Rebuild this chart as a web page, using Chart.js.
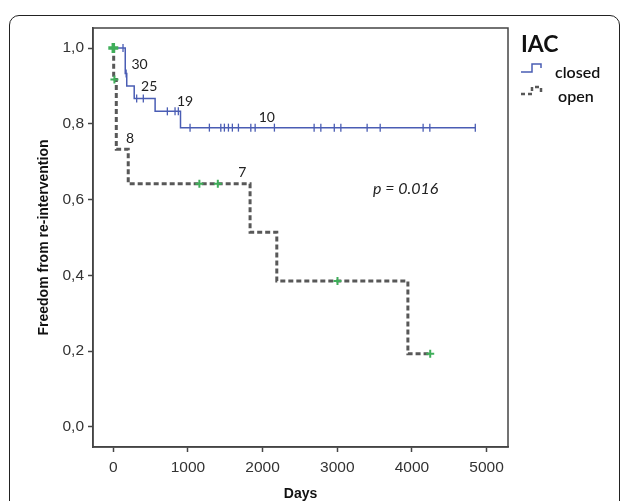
<!DOCTYPE html>
<html>
<head>
<meta charset="utf-8">
<script src="https://cdn.jsdelivr.net/npm/chart.js@4.4.1/dist/chart.umd.min.js"></script>
<style>
  html, body { margin: 0; padding: 0; background: #fff; }
  #wrap { position: relative; width: 627px; height: 501px; overflow: hidden; }
  #frame {
    position: absolute; left: 9px; top: 15px; width: 611px; height: 520px;
    border: 1.5px solid #222; border-radius: 10px; box-sizing: border-box;
  }
  canvas { position: absolute; left: 0; top: 0; }
</style>
</head>
<body>
<div id="wrap">
  <div id="frame"></div>
  <canvas id="km" width="627" height="501"></canvas>
</div>
<script>
// Kaplan-Meier steps (day of event, survival after event), last entry = end of follow-up
const closedTimes = [0, 160, 180, 280, 560, 900, 4850];
const closedSurv = [1.0, 0.933, 0.9, 0.867, 0.833, 0.79, 0.79];
const openTimes = [0, 5, 40, 200, 1832, 2190, 3946, 4245];
const openSurv = [1.0, 0.917, 0.733, 0.642, 0.514, 0.385, 0.193, 0.193];

// censored cases (days)
const closedCensored = [130, 172, 313, 402, 724, 827, 871, 1028, 1287, 1440, 1488, 1542, 1595,
  1676, 1842, 1900, 2158, 2690, 2780, 2960, 3048, 3400, 3575, 4150, 4240, 4849];
const openCensored = [0, 15, 1153, 1400, 3003, 4245];

// numbers at risk + p value written on the plot
const noteTexts = ['30', '25', '19', '10', '8', '7'];
const noteDays = [351, 481, 961, 2056, 224, 1729];
const noteValues = [0.957, 0.898, 0.86, 0.817, 0.761, 0.671];
const pText = 'p = 0.016';
const pDay = 3917;
const pValue = 0.629;

const xTickValues = [0, 1000, 2000, 3000, 4000, 5000];
const xTickLabels = ['0', '1000', '2000', '3000', '4000', '5000'];
const yTickValues = [0, 0.2, 0.4, 0.6, 0.8, 1.0];
const yTickLabels = ['0,0', '0,2', '0,4', '0,6', '0,8', '1,0'];

const BLUE = '#4a5db4';
const GRAY = '#585858';
const GREEN = '#3fae5a';

// survival value at a given day (step function lookup)
function survAt(times, surv, day) {
  let v = surv[0];
  for (let i = 0; i < times.length; i++) {
    if (times[i] <= day) v = surv[i];
  }
  return v;
}

const toPoints = (times, surv) => times.map((t, i) => ({ x: t, y: surv[i] }));

// frame around plot + text annotations + legend
const extrasPlugin = {
  id: 'extras',
  afterDraw(chart) {
    const { ctx, chartArea: a, scales } = chart;
    ctx.save();
    ctx.strokeStyle = '#444';
    ctx.lineWidth = 1.5;
    ctx.strokeRect(a.left, a.top, a.right - a.left, a.bottom - a.top);

    ctx.fillStyle = '#222';
    ctx.textAlign = 'center';
    ctx.textBaseline = 'middle';
    ctx.font = '14px Lato';
    noteTexts.forEach((t, i) => {
      ctx.fillText(t, scales.x.getPixelForValue(noteDays[i]), scales.y.getPixelForValue(noteValues[i]));
    });
    ctx.font = 'italic 16px Lato';
    ctx.fillText(pText, scales.x.getPixelForValue(pDay), scales.y.getPixelForValue(pValue));

    // legend
    const lx = 521;
    ctx.textAlign = 'left';
    ctx.fillStyle = '#111';
    ctx.font = 'bold 23px Lato';
    ctx.fillText('IAC', lx, 45);
    ctx.font = '600 16px Lato';
    ctx.fillText('closed', 555, 73);
    ctx.fillText('open', 558, 97);

    ctx.strokeStyle = BLUE;
    ctx.lineWidth = 1.5;
    ctx.beginPath();
    ctx.moveTo(lx, 72); ctx.lineTo(lx + 11, 72); ctx.lineTo(lx + 11, 64);
    ctx.lineTo(lx + 20, 64); ctx.lineTo(lx + 20, 68);
    ctx.stroke();

    ctx.strokeStyle = GRAY;
    ctx.lineWidth = 2.5;
    ctx.setLineDash([4, 3]);
    ctx.beginPath();
    ctx.moveTo(lx, 94); ctx.lineTo(lx + 11, 94); ctx.lineTo(lx + 11, 87);
    ctx.lineTo(lx + 20, 87); ctx.lineTo(lx + 20, 93);
    ctx.stroke();
    ctx.restore();
  }
};

Chart.register(extrasPlugin);

new Chart(document.getElementById('km'), {
  type: 'scatter',
  data: {
    datasets: [
      {
        label: 'closed censored',
        data: closedCensored.map(d => ({ x: d, y: survAt(closedTimes, closedSurv, d) })),
        pointStyle: 'line',
        rotation: 90,
        pointRadius: 4,
        borderColor: BLUE,
        backgroundColor: BLUE,
        borderWidth: 1.3,
        order: 0
      },
      {
        label: 'open censored',
        data: openCensored.map(d => ({ x: d, y: survAt(openTimes, openSurv, d) })),
        pointStyle: 'cross',
        pointRadius: (c) => (c.dataIndex === 0 ? 5 : 4),
        borderColor: GREEN,
        backgroundColor: GREEN,
        borderWidth: (c) => (c.dataIndex === 0 ? 3.5 : 2),
        order: 0
      },
      {
        label: 'closed',
        data: toPoints(closedTimes, closedSurv),
        showLine: true,
        stepped: true,
        borderColor: BLUE,
        borderWidth: 1.5,
        pointRadius: 0,
        order: 1
      },
      {
        label: 'open',
        data: toPoints(openTimes, openSurv),
        showLine: true,
        stepped: true,
        borderColor: GRAY,
        borderWidth: 3,
        borderDash: [5, 3],
        pointRadius: 0,
        order: 2
      }
    ]
  },
  options: {
    responsive: false,
    animation: false,
    layout: { padding: { left: 0, top: 28, right: 119, bottom: 0 } },
    plugins: { legend: { display: false }, tooltip: { enabled: false } },
    scales: {
      x: {
        type: 'linear',
        min: -272,
        max: 5287,
        afterFit(scale) { scale.height = 54; },
        afterBuildTicks(scale) { scale.ticks = xTickValues.map(v => ({ value: v })); },
        ticks: {
          callback: (v) => xTickLabels[xTickValues.indexOf(v)],
          font: { family: 'Liberation Sans', size: 15.5 },
          color: '#333',
          padding: 6,
          maxRotation: 0,
          autoSkip: false
        },
        grid: { drawOnChartArea: false, tickLength: 5, tickColor: '#444', tickWidth: 1.5 },
        border: { color: '#444', width: 1.5 },
        title: {
          display: true,
          text: 'Days',
          font: { family: 'Liberation Sans', size: 14, weight: 'bold' },
          color: '#111',
          padding: { top: 0, bottom: -2 }
        }
      },
      y: {
        type: 'linear',
        min: -0.053,
        max: 1.053,
        afterFit(scale) { scale.width = 93; },
        afterBuildTicks(scale) { scale.ticks = yTickValues.map(v => ({ value: v })); },
        ticks: {
          callback: (v) => yTickLabels[yTickValues.indexOf(v)],
          font: { family: 'Liberation Sans', size: 15.5 },
          color: '#333',
          padding: 4,
          autoSkip: false
        },
        grid: { drawOnChartArea: false, tickLength: 5, tickColor: '#444', tickWidth: 1.5 },
        border: { color: '#444', width: 1.5 },
        title: {
          display: true,
          text: 'Freedom from re-intervention',
          font: { family: 'Liberation Sans', size: 14, weight: 'bold' },
          color: '#111',
          padding: { top: 36, bottom: 0 }
        }
      }
    }
  }
});
</script>
</body>
</html>
